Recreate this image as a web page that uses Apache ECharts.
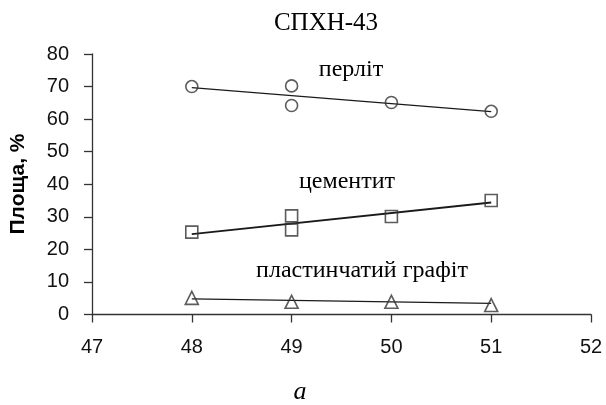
<!DOCTYPE html>
<html>
<head>
<meta charset="utf-8">
<script src="https://cdn.jsdelivr.net/npm/echarts@6/dist/echarts.min.js"></script>
<style>
html,body{margin:0;padding:0;background:#fff;}
#c{width:606px;height:405px;}
</style>
</head>
<body>
<div id="c"></div>
<script>
// Data
const xTicks = [47, 48, 49, 50, 51, 52];
const perlitePoints = [[48, 70.0], [49, 70.2], [49, 64.2], [50, 65.1], [51, 62.4]];
const perliteTrend = [[48, 69.7], [51, 62.3]];
const cementitePoints = [[48, 25.3], [49, 30.3], [49, 26.0], [50, 30.1], [51, 35.0]];
const cementiteTrend = [[48, 24.7], [51, 34.4]];
const graphitePoints = [[48, 5.1], [49, 3.9], [50, 3.9], [51, 2.9]];
const graphiteTrend = [[48, 4.8], [51, 3.4]];
const titleText = 'СПХН-43';
const yName = 'Площа, %';
const bottomLabel = 'а';
const seriesLabels = ['перліт', 'цементит', 'пластинчатий графіт'];

const chart = echarts.init(document.getElementById('c'), null, {renderer: 'canvas'});
const serif = '"Liberation Serif", "Times New Roman", serif';
const sans = '"Liberation Sans", Arial, sans-serif';
const axisColor = '#333';

function scatter(data, symbol, size) {
  return {
    type: 'scatter', data: data, symbol: symbol, symbolSize: size,
    itemStyle: {color: 'rgba(0,0,0,0)', borderColor: '#333', borderWidth: 1.6},
    z: 3, silent: true
  };
}
function trend(data, w) {
  return {
    type: 'line', data: data, showSymbol: false, symbol: 'none',
    lineStyle: {color: '#1a1a1a', width: w}, z: 2, silent: true
  };
}

chart.setOption({
  animation: false,
  backgroundColor: '#fff',
  grid: {left: 92, right: 15, top: 54, bottom: 90.5, containLabel: false, outerBoundsMode: 'none'},
  xAxis: {
    type: 'value', min: xTicks[0], max: xTicks[xTicks.length - 1], interval: 1,
    axisLine: {show: true, onZero: false, lineStyle: {color: axisColor, width: 1.3}},
    axisTick: {show: true, length: 8, lineStyle: {color: axisColor, width: 1.3}},
    axisLabel: {margin: 23, color: '#111', fontFamily: sans, fontSize: 20},
    splitLine: {show: false}
  },
  yAxis: {
    type: 'value', min: 0, max: 80, interval: 10,
    axisLine: {show: true, lineStyle: {color: axisColor, width: 1.3}},
    axisTick: {show: true, length: 8, lineStyle: {color: axisColor, width: 1.3}},
    axisLabel: {margin: 23, color: '#111', fontFamily: sans, fontSize: 20},
    splitLine: {show: false}
  },
  series: [
    trend(perliteTrend, 1.3), scatter(perlitePoints, 'circle', 12),
    trend(cementiteTrend, 1.9), scatter(cementitePoints, 'rect', 12),
    trend(graphiteTrend, 1.2), scatter(graphitePoints, 'triangle', 13)
  ],
  graphic: [
    {type: 'text', x: 326, y: 23, style: {text: titleText, font: '25px ' + serif, fill: '#000', align: 'center', verticalAlign: 'middle'}},
    {type: 'text', x: 351, y: 70, style: {text: seriesLabels[0], font: '24px ' + serif, fill: '#000', align: 'center', verticalAlign: 'middle'}},
    {type: 'text', x: 347, y: 182, style: {text: seriesLabels[1], font: '24px ' + serif, fill: '#000', align: 'center', verticalAlign: 'middle'}},
    {type: 'text', x: 362, y: 271, style: {text: seriesLabels[2], font: '24px ' + serif, fill: '#000', align: 'center', verticalAlign: 'middle'}},
    {type: 'text', x: 300, y: 392, style: {text: bottomLabel, font: 'italic 26px ' + serif, fill: '#000', align: 'center', verticalAlign: 'middle'}},
    {type: 'text', x: 18, y: 184, rotation: Math.PI / 2, style: {text: yName, font: 'bold 21px ' + sans, fill: '#000', align: 'center', verticalAlign: 'middle'}}
  ]
});
</script>
</body>
</html>
